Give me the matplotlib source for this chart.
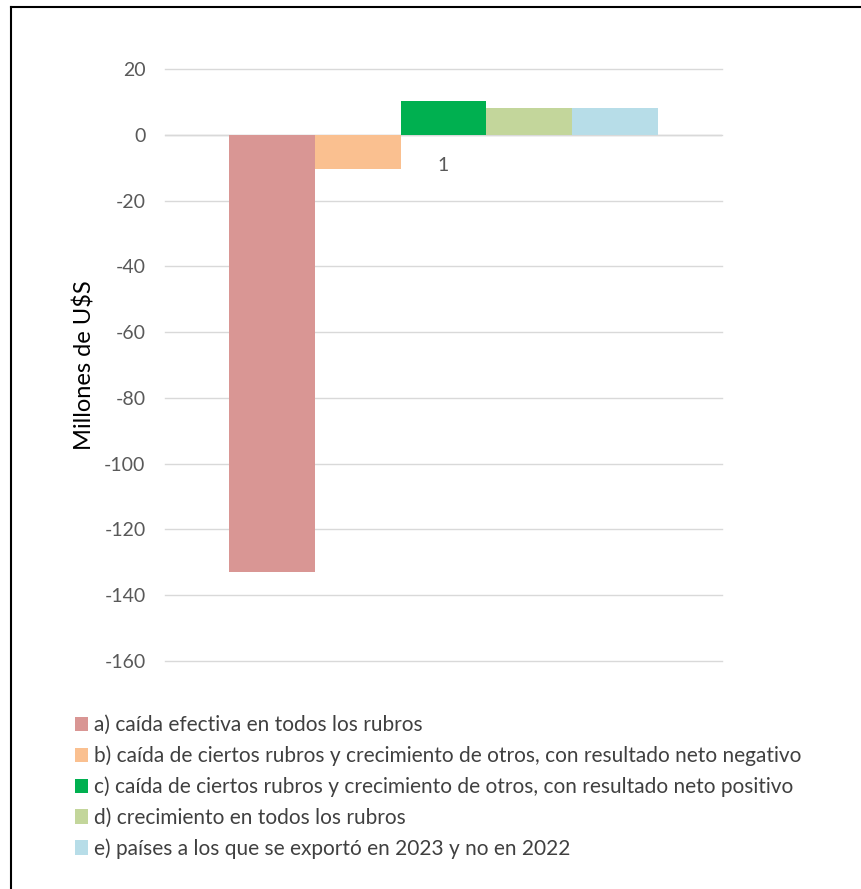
import matplotlib.pyplot as plt
import numpy as np

plt.rcParams['font.family'] = ['Lato', 'DejaVu Sans']
plt.rcParams['axes.unicode_minus'] = False

categories = ['1']
series = ['a) caída efectiva en todos los rubros',
          'b) caída de ciertos rubros y crecimiento de otros, con resultado neto negativo',
          'c) caída de ciertos rubros y crecimiento de otros, con resultado neto positivo',
          'd) crecimiento en todos los rubros',
          'e) países a los que se exportó en 2023 y no en 2022']
values = [-133.0, -10.3, 10.4, 8.2, 8.2]
colors = ['#d99694', '#fac090', '#00b050', '#c3d69b', '#b7dde8']

fig = plt.figure(figsize=(8.61, 8.89), dpi=100)
ax = fig.add_axes([0.1916, 0.2565, 0.6470, 0.6659])

w = 0.154
x = np.arange(len(categories))
for i in range(len(series)):
    ax.bar(x + (i - 2) * w, [values[i]], w, color=colors[i], label=series[i], zorder=3)

ax.set_xlim(-0.5, 0.5)
ax.set_ylim(-160, 20)
ax.set_yticks(np.arange(-160, 21, 20))
ax.grid(axis='y', color='#d9d9d9', linewidth=1, zorder=0)
for gl in ax.get_ygridlines():
    gl.set_clip_on(False)
ax.axhline(0, color='#d0d0d0', linewidth=1, zorder=1)
for s in ax.spines.values():
    s.set_visible(False)
ax.tick_params(axis='y', length=0, labelsize=14, labelcolor='#595959', pad=14)
ax.set_xticks([])
for xi, c in zip(x, categories):
    ax.annotate(c, (xi, 0), xytext=(0, -22), textcoords='offset points',
                ha='center', va='center', fontsize=14, color='#595959')
ax.set_ylabel('Millones de U$S', fontsize=17, color='black', labelpad=6)

fig.legend(loc='upper left', bbox_to_anchor=(0.078, 0.205), frameon=False,
           fontsize=15, labelcolor='#404040', handlelength=0.6, handleheight=0.7,
           handletextpad=0.3, labelspacing=0.5, borderaxespad=0)

fig.add_artist(plt.Line2D([0.0128, 0.0128], [0, 0.992], color='black', linewidth=1.5))
fig.add_artist(plt.Line2D([0.0128, 1], [0.992, 0.992], color='black', linewidth=1.5))

fig.savefig('out.png', dpi=100)
